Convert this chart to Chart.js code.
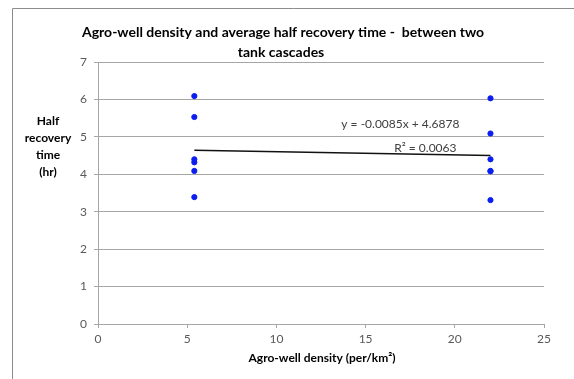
<!DOCTYPE html>
<html>
<head>
<meta charset="utf-8">
<script src="https://cdn.jsdelivr.net/npm/chart.js@4.4.1/dist/chart.umd.min.js"></script>
<style>
  html, body { margin: 0; padding: 0; background: #fff; }
  #wrap { width: 574px; height: 379px; position: relative; }
</style>
</head>
<body>
<div id="wrap"><canvas id="c" width="574" height="379"></canvas></div>
<script>
// ---- data ----
const densities = [5.4, 5.4, 5.4, 5.4, 5.4, 5.4, 22, 22, 22, 22, 22, 22];
const recoveryTimes = [6.09, 5.53, 4.40, 4.32, 4.09, 3.39, 6.03, 5.09, 4.40, 4.09, 4.08, 3.31];
const trendSlope = -0.0085;
const trendIntercept = 4.6878;
const trendLabel = 'y = -0.0085x + 4.6878';
const r2Label = 'R\u00B2 = 0.0063';
const titleLines = ['Agro-well density and average half recovery time -  between two', 'tank cascades'];
const yTitleLines = ['Half', 'recovery', 'time', '(hr)'];
const xTitle = 'Agro-well density (per/km\u00B2)';
const xTicks = [0, 5, 10, 15, 20, 25];
const yTicks = [0, 1, 2, 3, 4, 5, 6, 7];

const FONT = 'Lato, "Open Sans", sans-serif';
const points = densities.map((d, i) => ({ x: d, y: recoveryTimes[i] }));
const xMin = Math.min(...densities), xMax = Math.max(...densities);
const trend = [xMin, xMax].map(x => ({ x: x, y: trendSlope * x + trendIntercept }));

const decor = {
  id: 'decor',
  afterDraw(chart) {
    const ctx = chart.ctx;
    ctx.save();
    // frame (top & left)
    ctx.strokeStyle = '#8c8c8c';
    ctx.lineWidth = 1;
    ctx.beginPath();
    ctx.moveTo(12.5, 379);
    ctx.lineTo(12.5, 8.5);
    ctx.lineTo(574, 8.5);
    ctx.stroke();
    // title
    ctx.fillStyle = '#000';
    ctx.textAlign = 'center';
    ctx.textBaseline = 'middle';
    ctx.font = 'bold 14px ' + FONT;
    ctx.fillText(titleLines[0], 283, 32);
    ctx.fillText(titleLines[1], 281, 52);
    // y title
    ctx.font = 'bold 12px ' + FONT;
    yTitleLines.forEach((t, i) => ctx.fillText(t, 48, 121 + i * 17));
    // x title
    const xs = chart.scales.x, ys = chart.scales.y;
    ctx.fillText(xTitle, (chart.chartArea.left + chart.chartArea.right) / 2 + 1, 358);
    // trend labels
    ctx.fillStyle = '#404040';
    ctx.font = '12px ' + FONT;
    ctx.fillText(trendLabel, xs.getPixelForValue(16.95), ys.getPixelForValue(5.34));
    ctx.fillText(r2Label, xs.getPixelForValue(18.35), ys.getPixelForValue(4.7));
    ctx.restore();
  }
};

new Chart(document.getElementById('c'), {
  type: 'scatter',
  data: {
    datasets: [
      {
        data: points,
        backgroundColor: '#0a1ef0',
        borderColor: '#0a1ef0',
        pointRadius: 2.6,
        pointHoverRadius: 2.6,
        order: 1
      },
      {
        type: 'line',
        data: trend,
        borderColor: '#111',
        borderWidth: 1.5,
        pointRadius: 0,
        fill: false,
        order: 2
      }
    ]
  },
  options: {
    animation: false,
    responsive: false,
    events: [],
    layout: { padding: { left: 0, right: 30, top: 62, bottom: 0 } },
    plugins: { legend: { display: false }, title: { display: false }, tooltip: { enabled: false } },
    scales: {
      x: {
        type: 'linear',
        min: 0, max: 25,
        afterBuildTicks: s => { s.ticks = xTicks.map(v => ({ value: v })); },
        afterFit: s => { s.height = 55; },
        grid: { drawOnChartArea: false, drawTicks: true, tickLength: 4, color: '#a6a6a6' },
        border: { color: '#a6a6a6', width: 1 },
        ticks: { color: '#595959', font: { family: FONT, size: 12 }, padding: 4, maxRotation: 0 },
        title: { display: false }
      },
      y: {
        type: 'linear',
        min: 0, max: 7,
        afterBuildTicks: s => { s.ticks = yTicks.map(v => ({ value: v })); },
        afterFit: s => { s.width = 98; },
        grid: { drawOnChartArea: true, drawTicks: true, tickLength: 4, color: '#a6a6a6' },
        border: { color: '#a6a6a6', width: 1 },
        ticks: { color: '#595959', font: { family: FONT, size: 12 }, padding: 7 }
      }
    }
  },
  plugins: [decor]
});
</script>
</body>
</html>
